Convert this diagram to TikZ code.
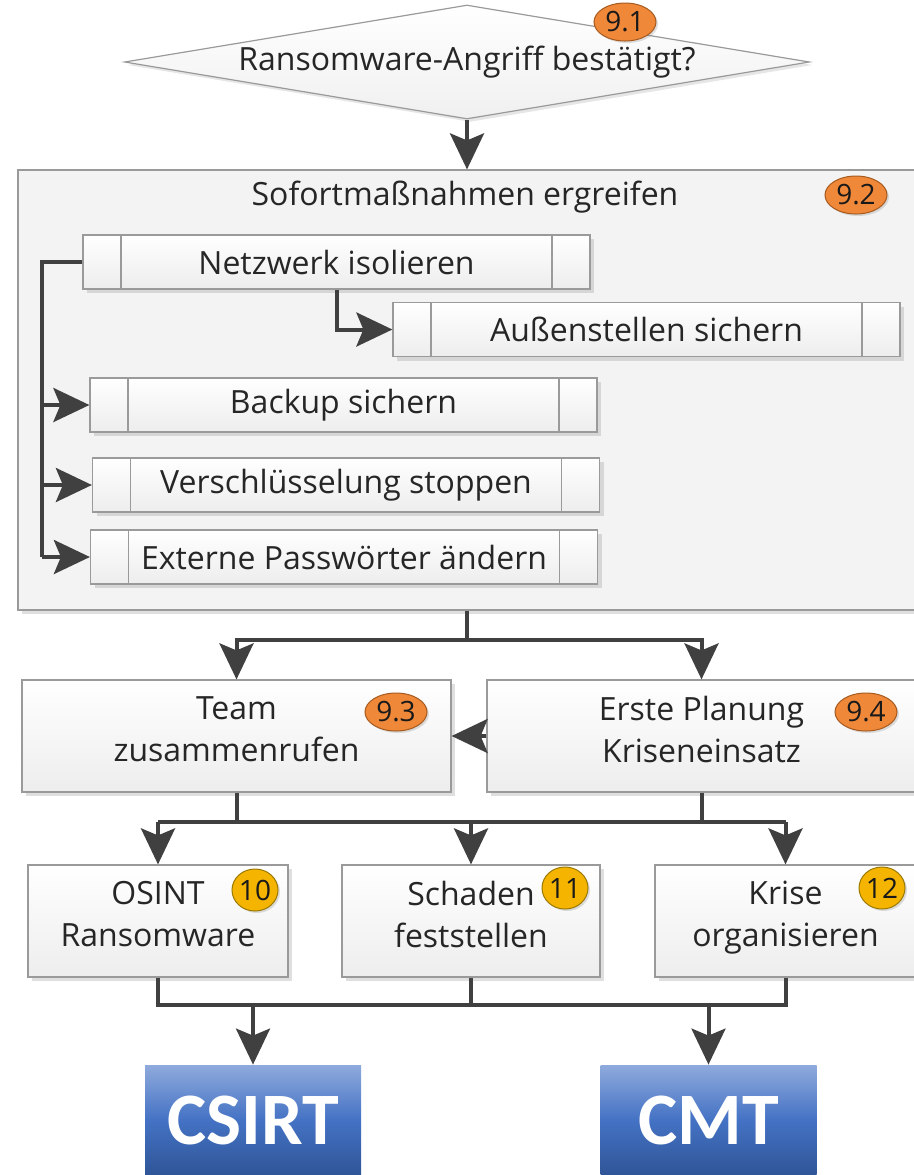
\documentclass[tikz,border=0pt]{standalone}
\usepackage{fontspec}
\setmainfont{Open Sans}
\newfontfamily\boldfont{Carlito}
\usetikzlibrary{shapes.geometric,arrows.meta,shadows}
\definecolor{conncol}{HTML}{404040}
\definecolor{boxline}{HTML}{9A9A9A}
\definecolor{bigfill}{HTML}{F3F3F3}
\definecolor{orfill}{HTML}{F0883A}
\definecolor{orline}{HTML}{A65A1E}
\definecolor{yefill}{HTML}{F5B400}
\definecolor{yeline}{HTML}{9C7A00}
\definecolor{bltop}{HTML}{8FAADC}
\definecolor{blmid}{HTML}{4472C4}
\definecolor{blbot}{HTML}{2F5597}
\definecolor{txt}{HTML}{262626}
\tikzset{
  base/.style={font=\fontsize{16}{21}\selectfont, text=txt},
  box/.style={base, rectangle, draw=boxline, line width=0.6pt, top color=white, bottom color=black!7,
    drop shadow={shadow xshift=2pt, shadow yshift=-2pt, opacity=0.25}, inner sep=0pt, align=center},
  twoline/.style={box, text depth=7pt},
  subbox/.style={box, minimum width=253.5pt, minimum height=27pt,
    path picture={\draw[line width=0.6pt, draw=boxline]
      ([xshift=19pt]path picture bounding box.north west) -- ([xshift=19pt]path picture bounding box.south west)
      ([xshift=-19pt]path picture bounding box.north east) -- ([xshift=-19pt]path picture bounding box.south east);}},
  bigbox/.style={rectangle, draw=boxline, line width=0.6pt, fill=bigfill,
    drop shadow={shadow xshift=2pt, shadow yshift=-2pt, opacity=0.25}, inner sep=0pt},
  dia/.style={base, diamond, shape aspect=6, inner sep=0pt, draw=boxline, line width=0.6pt,
    top color=white, bottom color=black!6, minimum width=342.5pt, minimum height=57pt,
    drop shadow={shadow xshift=1.5pt, shadow yshift=-1.5pt, opacity=0.2}},
  obadge/.style={ellipse, draw=orline, line width=0.5pt, fill=orfill, inner sep=0pt,
    minimum width=31pt, minimum height=19pt, font=\fontsize{14}{14}\selectfont, text=black!90,
    drop shadow={shadow xshift=1pt, shadow yshift=-1pt, opacity=0.25}},
  ybadge/.style={obadge, draw=yeline, fill=yefill, minimum width=23pt, minimum height=21pt},
  team/.style={rectangle, inner sep=0pt, minimum width=108pt, minimum height=55pt,
    top color=bltop, bottom color=blbot, middle color=blmid,
    font=\boldfont\bfseries\fontsize{37}{37}\selectfont, text=white},
  conn/.style={draw=conncol, line width=2pt},
  arr/.style={-{Stealth[length=18pt,width=17pt,inset=3.5pt]}},
}
\begin{document}
\begin{tikzpicture}[x=0.5pt,y=-0.5pt]
\useasboundingbox (0,0) rectangle (914,1175);

% diamond
\node[dia] (q) at (467,62) {Ransomware-Angriff bestätigt?};
\node[obadge] (b91) at (625,22) {9.1};

% big box
\node[bigbox, minimum width=451pt, minimum height=220pt] (big) at (469,390) {};
\node[base] (title) at (465,197) {Sofortmaßnahmen ergreifen};
\node[obadge] (b92) at (856,195) {9.2};
\draw[conn,arr] (q.south) -- (q.south |- big.north);

% sub-process boxes
\node[subbox] (net) at (336.5,262) {Netzwerk isolieren};
\node[subbox] (aus) at (646.5,329.5) {Außenstellen sichern};
\node[subbox] (bak) at (343.5,405) {Backup sichern};
\node[subbox] (ver) at (346,485) {Verschlüsselung stoppen};
\node[subbox] (ext) at (344,557) {Externe Passwörter ändern};

\coordinate (railtop) at (42,262);
\coordinate (railbot) at (42,557);
\draw[conn] (net.west) -- (railtop) -- (railbot);
\draw[conn,arr] (railtop |- bak.west) -- (bak.west);
\draw[conn,arr] (railtop |- ver.west) -- (ver.west);
\draw[conn,arr] (railbot) -- (ext.west);
\draw[conn,arr] (net.south) |- (aus.west);

% second row
\node[twoline, minimum width=214.5pt, minimum height=56pt] (teamc) at (236.5,736) {Team\\zusammenrufen};
\node[obadge] (b93) at (396,712) {9.3};
\node[twoline, minimum width=214.5pt, minimum height=56pt] (plan) at (701.5,736) {Erste Planung\\Kriseneinsatz};
\node[obadge] (b94) at (866,712) {9.4};

\coordinate (split1) at (467,640);
\draw[conn] (q.south |- big.south) -- (split1);
\draw[conn,arr] (split1) -| (teamc.north);
\draw[conn,arr] (split1) -| (plan.north);
\draw[conn,arr] (plan.west) -- (teamc.east);

% third row
\node[twoline, minimum width=130pt, minimum height=56pt] (osint) at (158,921) {OSINT\\Ransomware};
\node[ybadge] (b10) at (255,890) {10};
\node[twoline, minimum width=129pt, minimum height=56pt] (schaden) at (471,921) {Schaden\\feststellen};
\node[ybadge] (b11) at (565,888) {11};
\node[twoline, minimum width=130.5pt, minimum height=56pt] (krise) at (785.5,921) {Krise\\organisieren};
\node[ybadge] (b12) at (882,888) {12};

\coordinate (split2l) at (158,822);
\coordinate (split2r) at (785.5,822);
\draw[conn] (teamc.south) -- (teamc.south |- split2l);
\draw[conn] (plan.south) -- (plan.south |- split2l);
\draw[conn] (split2l) -- (split2r);
\draw[conn,arr] (split2l) -- (osint.north);
\draw[conn,arr] (schaden.north |- split2l) -- (schaden.north);
\draw[conn,arr] (split2r) -- (krise.north);

% bottom
\node[team] (csirt) at (253,1120) {CSIRT};
\node[team] (cmt) at (708.5,1120) {CMT};
\coordinate (join) at (158,1005);
\coordinate (joinr) at (785.5,1005);
\draw[conn] (osint.south) -- (join) -- (joinr) -- (krise.south);
\draw[conn] (schaden.south) -- (schaden.south |- join);
\draw[conn,arr] (csirt.north |- join) -- (csirt.north);
\draw[conn,arr] (cmt.north |- join) -- (cmt.north);
\end{tikzpicture}
\end{document}
